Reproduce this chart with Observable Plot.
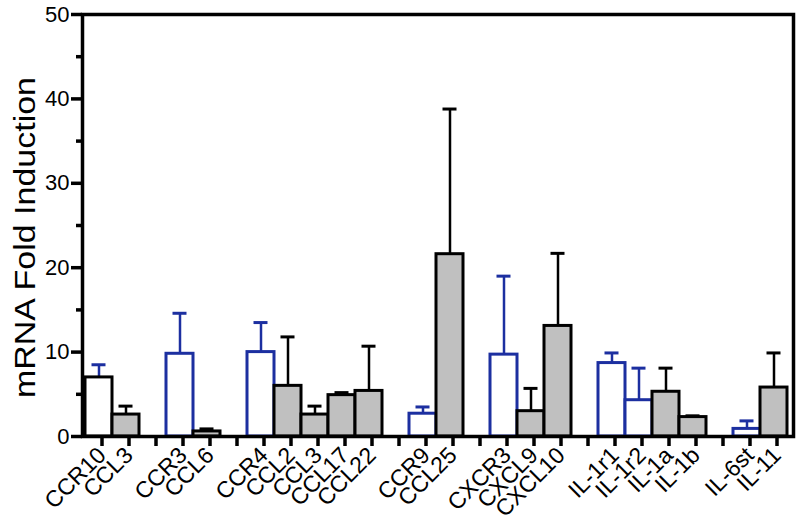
<!DOCTYPE html>
<html>
<head>
<meta charset="utf-8">
<script src="https://cdn.jsdelivr.net/npm/d3@7"></script>
<script src="https://cdn.jsdelivr.net/npm/@observablehq/plot@0.6"></script>
<style>
  html, body { margin: 0; padding: 0; background: #fff; }
  #chart svg { display: block; }
  #chart svg text { font-size: 23px; }
  #chart svg g[aria-label="y-axis tick label"] text { font-size: 22px; }
  #chart svg path { stroke-width: 3.5px; }
</style>
</head>
<body>
<div id="chart"></div>
<script>
// Category slots (empty strings are the gaps between gene groups)
const labels = ["CCR10","CCL3","","CCR3","CCL6","","CCR4","CCL2","CCL3","CCL17","CCL22","","CCR9","CCL25","","CXCR3","CXCL9","CXCL10","","IL-1r1","IL-1r2","IL-1a","IL-1b","","IL-6st","IL-11"];
// receptor (open bar) vs ligand (gray bar)
const kinds  = ["receptor","ligand","","receptor","ligand","","receptor","ligand","ligand","ligand","ligand","","receptor","ligand","","receptor","ligand","ligand","","receptor","receptor","ligand","ligand","","receptor","ligand"];
// mean fold induction
const values = [7.0,2.6,null,9.8,0.6,null,10.0,6.0,2.6,4.9,5.4,null,2.7,21.6,null,9.7,3.0,13.1,null,8.7,4.3,5.3,2.3,null,0.9,5.8];
// upper end of error bar (mean + SD)
const errTops = [8.5,3.6,null,14.6,0.9,null,13.5,11.8,3.6,5.2,10.7,null,3.5,38.8,null,19.0,5.7,21.7,null,9.9,8.1,8.1,2.45,null,1.85,9.9];

const yMajor = [0,10,20,30,40,50];
const yMinor = [5,15,25,35,45];
const yTitle = "mRNA Fold Induction";

const BLUE = "#1c2fa0", BLACK = "#000", GRAY = "#c0c0c0";
const FONT = "'Liberation Sans', Arial, Helvetica, sans-serif";

const data = labels.map((label, i) => ({i, label, kind: kinds[i], v: values[i], e: errTops[i]}))
  .filter(d => d.v != null);

const barStroke = d => (d.kind === "receptor" && d.label !== "CCR10") ? BLUE : BLACK;
const errStroke = d => d.kind === "receptor" ? BLUE : BLACK;

const chart = Plot.plot({
  width: 800,
  height: 522,
  marginLeft: 82,
  marginRight: 7,
  marginTop: 14,
  marginBottom: 86,
  style: {fontFamily: FONT, background: "#fff", color: "#000"},
  x: {type: "band", domain: d3.range(labels.length), range: [82, 789], padding: 0, axis: null},
  y: {domain: [0, 50], range: [436, 14], axis: null},
  marks: [
    Plot.ruleX(data, {x: "i", y1: "v", y2: "e", stroke: errStroke, strokeWidth: 2.5}),
    Plot.tickY(data, {x: "i", y: "e", stroke: errStroke, strokeWidth: 3, insetLeft: 6.5, insetRight: 6.5}),
    Plot.barY(data, {x: "i", y: "v", fill: d => d.kind === "ligand" ? GRAY : "#fff", stroke: barStroke, strokeWidth: 3}),
    Plot.axisY({ticks: yMajor, tickSize: 11, tickPadding: 2, strokeWidth: 3.5, label: null}),
    Plot.axisY({ticks: yMinor, tickSize: 6, strokeWidth: 3.5, tickFormat: () => "", label: null}),
    Plot.axisX({tickSize: 10, tickRotate: -45, tickPadding: 5, dx: 3, strokeWidth: 3.5, label: null, tickFormat: i => labels[i]}),
    Plot.frame({stroke: "#000", strokeWidth: 3.5})
  ]
});

const svg = d3.select(chart);
svg.append("text")
  .attr("transform", "translate(35,237.5) rotate(-90)")
  .attr("text-anchor", "middle")
  .attr("style", "font-size:29px")
  .attr("font-family", FONT)
  .attr("fill", "#000")
  .attr("textLength", 321)
  .attr("lengthAdjust", "spacingAndGlyphs")
  .text(yTitle);

document.getElementById("chart").appendChild(chart);
</script>
</body>
</html>
